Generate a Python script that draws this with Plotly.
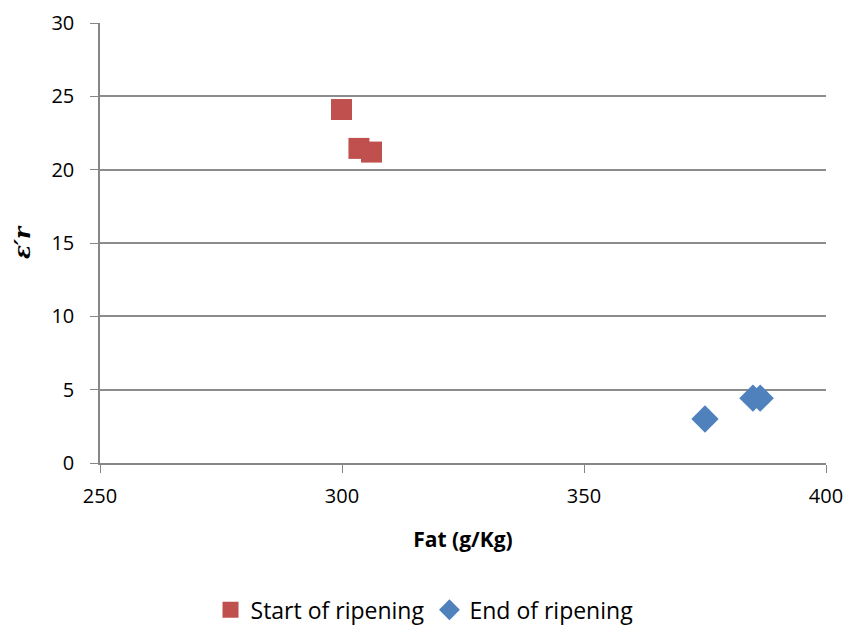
import plotly.graph_objects as go

start_fat = [299.9, 303.5, 306.1]
start_er = [24.1, 21.45, 21.2]
end_fat = [375.0, 384.9, 386.4]
end_er = [3.0, 4.42, 4.42]

x_ticks = [250, 300, 350, 400]
y_ticks = [0, 5, 10, 15, 20, 25, 30]

FONT = "Open Sans"

fig = go.Figure()
fig.add_trace(go.Scatter(
    x=start_fat, y=start_er, mode="markers", name="Start of ripening",
    marker=dict(symbol="square", size=21, color="#C0504D",
                line=dict(width=0))))
fig.add_trace(go.Scatter(
    x=end_fat, y=end_er, mode="markers", name="End of ripening",
    marker=dict(symbol="diamond", size=21, color="#4F81BD",
                line=dict(width=0))))

fig.update_layout(
    width=851, height=628,
    margin=dict(l=100, r=25, t=23, b=165),
    paper_bgcolor="white", plot_bgcolor="white",
    font=dict(family=FONT, size=20, color="#000000"),
    showlegend=True,
    legend=dict(orientation="h", x=0.447, xanchor="center",
                yref="container", y=0.029, yanchor="middle",
                font=dict(size=23), itemwidth=30,
                tracegroupgap=0, traceorder="normal"),
    xaxis=dict(range=[250, 400], tickvals=x_ticks, showgrid=False,
               showline=True, linecolor="#868686", linewidth=1.5,
               ticks="outside", ticklen=8, tickcolor="#868686",
               ticklabelstandoff=6, automargin=False,
               zeroline=False, tickfont=dict(size=20),
               title=dict(text="<b>Fat (g/Kg)</b>", font=dict(size=21), standoff=25)),
    yaxis=dict(range=[0, 30], tickvals=y_ticks, showgrid=True,
               gridcolor="#8C8C8C", gridwidth=1.5,
               showline=True, linecolor="#868686", linewidth=1.5,
               ticks="outside", ticklen=8, tickcolor="#868686",
               ticklabelstandoff=12, automargin=False,
               zeroline=False, tickfont=dict(size=20),
               title=dict(text="<b><i>ε′r</i></b>", font=dict(size=23, family="DejaVu Serif"), standoff=14)),
)

fig.write_html("out.html", config={"displayModeBar": False},
               post_script="document.body.style.margin='0';document.body.style.padding='0';")
